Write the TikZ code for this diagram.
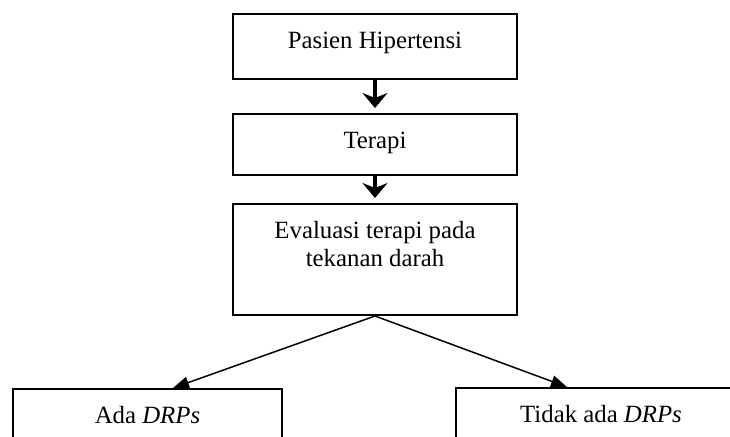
\documentclass[tikz,border=0pt]{standalone}
\usepackage{fontspec}
\setmainfont{Liberation Serif}
\usepackage{tikz}
\usetikzlibrary{positioning,arrows.meta}

\begin{document}
\begin{tikzpicture}[
    x=0.5pt, y=-0.5pt,
    font=\fontsize{12.4}{14.3}\selectfont,
    box/.style={draw, rectangle, line width=1pt, anchor=north, align=center, inner ysep=0pt, text height=17pt},
    thickline/.style={draw, line width=2pt, -{Stealth[length=7.5pt, width=12.5pt, inset=2.5pt]}, shorten >=2.5pt},
    line/.style={draw, line width=0.75pt, -{Triangle[length=8pt, width=6pt]}}
]
    \useasboundingbox (0,0) rectangle (730,436);
    \clip (0,0) rectangle (730,436);

    % Nodes
    \node[box, minimum width=142pt, text depth=15.5pt] (pasien) at (375,13) {Pasien Hipertensi};
    \node[box, minimum width=142pt, text depth=13.5pt] (terapi) at (375,113) {Terapi};
    \node[box, minimum width=142pt, text height=31.3pt, text depth=24.2pt] (eval) at (375,203) {Evaluasi terapi pada\\tekanan darah};
    \node[box, minimum width=134.5pt, text depth=40pt] (ada) at (147.5,388) {Ada \textit{DRPs}};
    \node[box, minimum width=145pt, text depth=40pt] (tidak) at (601,387) {Tidak ada \textit{DRPs}};

    % Connections
    \draw[thickline] (pasien) -- (terapi);
    \draw[thickline] (terapi) -- (eval);
    \draw[line] (eval.south) -- ([xshift=12.75pt]ada.north);
    \draw[line] (eval.south) -- ([xshift=-17pt]tidak.north);
\end{tikzpicture}
\end{document}
